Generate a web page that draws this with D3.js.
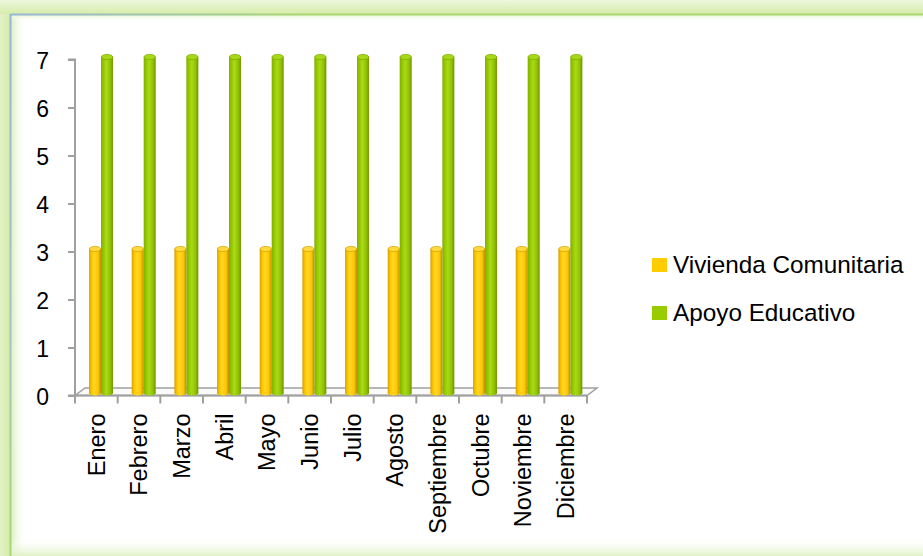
<!DOCTYPE html>
<html>
<head>
<meta charset="utf-8">
<script src="https://cdn.jsdelivr.net/npm/d3@7"></script>
<style>
  html, body { margin: 0; padding: 0; background: #fff; }
  svg { display: block; }
  text { font-family: "Liberation Sans", Arial, sans-serif; fill: #000; }
</style>
</head>
<body>
<svg id="chart" width="923" height="556"></svg>
<script>
// ---- data ----
const categories = ["Enero", "Febrero", "Marzo", "Abril", "Mayo", "Junio", "Julio", "Agosto", "Septiembre", "Octubre", "Noviembre", "Diciembre"];
const seriesNames = ["Vivienda Comunitaria", "Apoyo Educativo"];
const viviendaValues = [3, 3, 3, 3, 3, 3, 3, 3, 3, 3, 3, 3];
const apoyoValues = [7, 7, 7, 7, 7, 7, 7, 7, 7, 7, 7, 7];
const yTickValues = [0, 1, 2, 3, 4, 5, 6, 7];

const W = 923, H = 556;
const svg = d3.select("#chart");
const defs = svg.append("defs");

// ---- frame ----
const topBand = defs.append("linearGradient").attr("id", "topBand").attr("x1", 0).attr("y1", 0).attr("x2", 0).attr("y2", 1);
topBand.append("stop").attr("offset", "0%").attr("stop-color", "#EEF7DD");
topBand.append("stop").attr("offset", "100%").attr("stop-color", "#D7ECAA");
const leftBand = defs.append("linearGradient").attr("id", "leftBand").attr("x1", 0).attr("y1", 0).attr("x2", 1).attr("y2", 0);
leftBand.append("stop").attr("offset", "0%").attr("stop-color", "#E3F2C6");
leftBand.append("stop").attr("offset", "100%").attr("stop-color", "#D6ECA8");
const glowL = defs.append("linearGradient").attr("id", "glowL").attr("x1", 0).attr("y1", 0).attr("x2", 1).attr("y2", 0);
glowL.append("stop").attr("offset", "0%").attr("stop-color", "#DCEFBE").attr("stop-opacity", 1);
glowL.append("stop").attr("offset", "100%").attr("stop-color", "#ffffff").attr("stop-opacity", 0);
const glowB = defs.append("linearGradient").attr("id", "glowB").attr("x1", 0).attr("y1", 1).attr("x2", 0).attr("y2", 0);
glowB.append("stop").attr("offset", "0%").attr("stop-color", "#E0F1C6").attr("stop-opacity", 1);
glowB.append("stop").attr("offset", "100%").attr("stop-color", "#ffffff").attr("stop-opacity", 0);
const glowT = defs.append("linearGradient").attr("id", "glowT").attr("x1", 0).attr("y1", 0).attr("x2", 0).attr("y2", 1);
glowT.append("stop").attr("offset", "0%").attr("stop-color", "#E6F4D0").attr("stop-opacity", 1);
glowT.append("stop").attr("offset", "100%").attr("stop-color", "#ffffff").attr("stop-opacity", 0);
const edgeLine = defs.append("linearGradient").attr("id", "edgeLine").attr("gradientUnits", "userSpaceOnUse")
  .attr("x1", 0).attr("y1", 0).attr("x2", 300).attr("y2", 0);
edgeLine.append("stop").attr("offset", "0%").attr("stop-color", "#95B5E0");
edgeLine.append("stop").attr("offset", "100%").attr("stop-color", "#A8D873");
const edgeLineV = defs.append("linearGradient").attr("id", "edgeLineV").attr("gradientUnits", "userSpaceOnUse")
  .attr("x1", 0).attr("y1", 0).attr("x2", 0).attr("y2", 556);
edgeLineV.append("stop").attr("offset", "0%").attr("stop-color", "#95B5E0");
edgeLineV.append("stop").attr("offset", "60%").attr("stop-color", "#A3C4C8");
edgeLineV.append("stop").attr("offset", "100%").attr("stop-color", "#A8D873");

svg.append("rect").attr("x", 0).attr("y", 0).attr("width", W).attr("height", H).attr("fill", "#DDEFBC");
svg.append("rect").attr("x", 0).attr("y", 0).attr("width", W).attr("height", 14).attr("fill", "url(#topBand)");
svg.append("rect").attr("x", 0).attr("y", 14).attr("width", 10).attr("height", H - 14).attr("fill", "url(#leftBand)");
// inner white panel
svg.append("rect").attr("x", 11).attr("y", 15).attr("width", W - 11).attr("height", 541).attr("fill", "#fff");
svg.append("rect").attr("x", 11).attr("y", 15).attr("width", 16).attr("height", 541).attr("fill", "url(#glowL)");
svg.append("rect").attr("x", 11).attr("y", 15).attr("width", W - 11).attr("height", 6).attr("fill", "url(#glowT)");
svg.append("rect").attr("x", 11).attr("y", 538).attr("width", W - 11).attr("height", 18).attr("fill", "url(#glowB)");
svg.append("line").attr("x1", 10.5).attr("y1", 14.5).attr("x2", W).attr("y2", 14.5)
  .attr("stroke", "url(#edgeLine)").attr("stroke-width", 2);
svg.append("line").attr("x1", 10.5).attr("y1", 14).attr("x2", 10.5).attr("y2", H)
  .attr("stroke", "url(#edgeLineV)").attr("stroke-width", 2);

// ---- scales ----
const x = d3.scaleBand().domain(categories).range([75, 587]).paddingInner(0).paddingOuter(0);
const xs = d3.scaleBand().domain(seriesNames).range([0, x.bandwidth()]).paddingInner(0).paddingOuter(0.78);
const y = d3.scaleLinear().domain([0, 7]).range([395.5, 59.5]);
const depth = { dx: 10, dy: -7.5 };      // floor depth
const barOff = { dx: 4.7, dy: -2.5 };    // bar plane offset

const axisColor = "#A0A0A0";

// floor
const x0 = x.range()[0], x1 = x.range()[1], y0 = y(0);
svg.append("path")
  .attr("d", `M${x0},${y0} L${x1},${y0} L${x1 + depth.dx},${y0 + depth.dy} L${x0 + depth.dx},${y0 + depth.dy} Z`)
  .attr("fill", "#FAFAFA").attr("stroke", axisColor).attr("stroke-width", 1.5);
svg.append("line").attr("x1", x0).attr("y1", y0).attr("x2", x1).attr("y2", y0)
  .attr("stroke", axisColor).attr("stroke-width", 2);

// y axis
const yAxis = d3.axisLeft(y).tickValues(yTickValues).tickSize(7).tickPadding(19).tickFormat(d3.format("d"));
const gy = svg.append("g").attr("transform", "translate(75,0)").call(yAxis);
gy.select(".domain").attr("stroke", axisColor).attr("stroke-width", 2).attr("d", `M-7,${y(7)}H0V${y(0)}H-7`);
gy.selectAll(".tick line").attr("stroke", axisColor).attr("stroke-width", 2);
gy.selectAll(".tick text").attr("font-size", 23).attr("font-family", "Liberation Sans, Arial, sans-serif").attr("fill", "#000").attr("dy", "0.38em");

// x axis
const xAxis = d3.axisBottom(x).tickSize(0).tickFormat(d => d);
const gx = svg.append("g").attr("transform", `translate(0,${y0})`).call(xAxis);
gx.select(".domain").remove();
gx.selectAll(".tick text")
  .attr("font-size", 23.5).attr("font-family", "Liberation Sans, Arial, sans-serif").attr("fill", "#000")
  .attr("text-anchor", "end").attr("transform", "rotate(-90)")
  .attr("x", -18).attr("y", 0).attr("dy", "0.36em");
// category boundary ticks
const boundaries = categories.map(c => x(c)).concat([x1]);
svg.append("g").selectAll("line").data(boundaries).join("line")
  .attr("x1", d => d).attr("x2", d => d).attr("y1", y0).attr("y2", y0 + 8)
  .attr("stroke", axisColor).attr("stroke-width", 2);

// ---- cylinders ----
function cylGrad(id, stops) {
  const g = defs.append("linearGradient").attr("id", id).attr("x1", 0).attr("y1", 0).attr("x2", 1).attr("y2", 0);
  stops.forEach(s => g.append("stop").attr("offset", s[0]).attr("stop-color", s[1]));
}
cylGrad("gOrange", [["0%", "#D9A000"], ["25%", "#FFCC00"], ["45%", "#FFD626"], ["75%", "#FFC800"], ["100%", "#C08A00"]]);
cylGrad("gGreen", [["0%", "#7FAE00"], ["25%", "#99CC00"], ["45%", "#A8D91A"], ["75%", "#94C400"], ["100%", "#6E9800"]]);

const series = [
  { name: seriesNames[0], values: viviendaValues, grad: "url(#gOrange)", top: "#FFD940", edge: "#D9A400", legend: "#FFCC00" },
  { name: seriesNames[1], values: apoyoValues, grad: "url(#gGreen)", top: "#A6D817", edge: "#7FAE00", legend: "#99CC00" }
];

const bw = xs.bandwidth();
const ry = 2.6;
categories.forEach((c, i) => {
  series.forEach(s => {
    const v = s.values[i];
    const bx = x(c) + xs(s.name) + barOff.dx;
    const yt = y(v) + barOff.dy;
    const yb = y(0) + barOff.dy;
    const g = svg.append("g");
    g.append("ellipse").attr("cx", bx + bw / 2).attr("cy", yb).attr("rx", bw / 2).attr("ry", ry).attr("fill", s.grad);
    g.append("rect").attr("x", bx).attr("y", yt).attr("width", bw).attr("height", yb - yt).attr("fill", s.grad);
    g.append("ellipse").attr("cx", bx + bw / 2).attr("cy", yt).attr("rx", bw / 2 - 0.3).attr("ry", ry)
      .attr("fill", s.top).attr("stroke", s.edge).attr("stroke-width", 0.8);
  });
});

// ---- legend ----
const legend = svg.append("g");
series.forEach((s, i) => {
  const ly = 265 + i * 48;
  legend.append("rect").attr("x", 652).attr("y", ly - 7).attr("width", 15).attr("height", 14).attr("fill", s.legend);
  legend.append("text").attr("x", 673).attr("y", ly + 7.5).attr("font-size", 24.3).text(s.name);
});
</script>
</body>
</html>
